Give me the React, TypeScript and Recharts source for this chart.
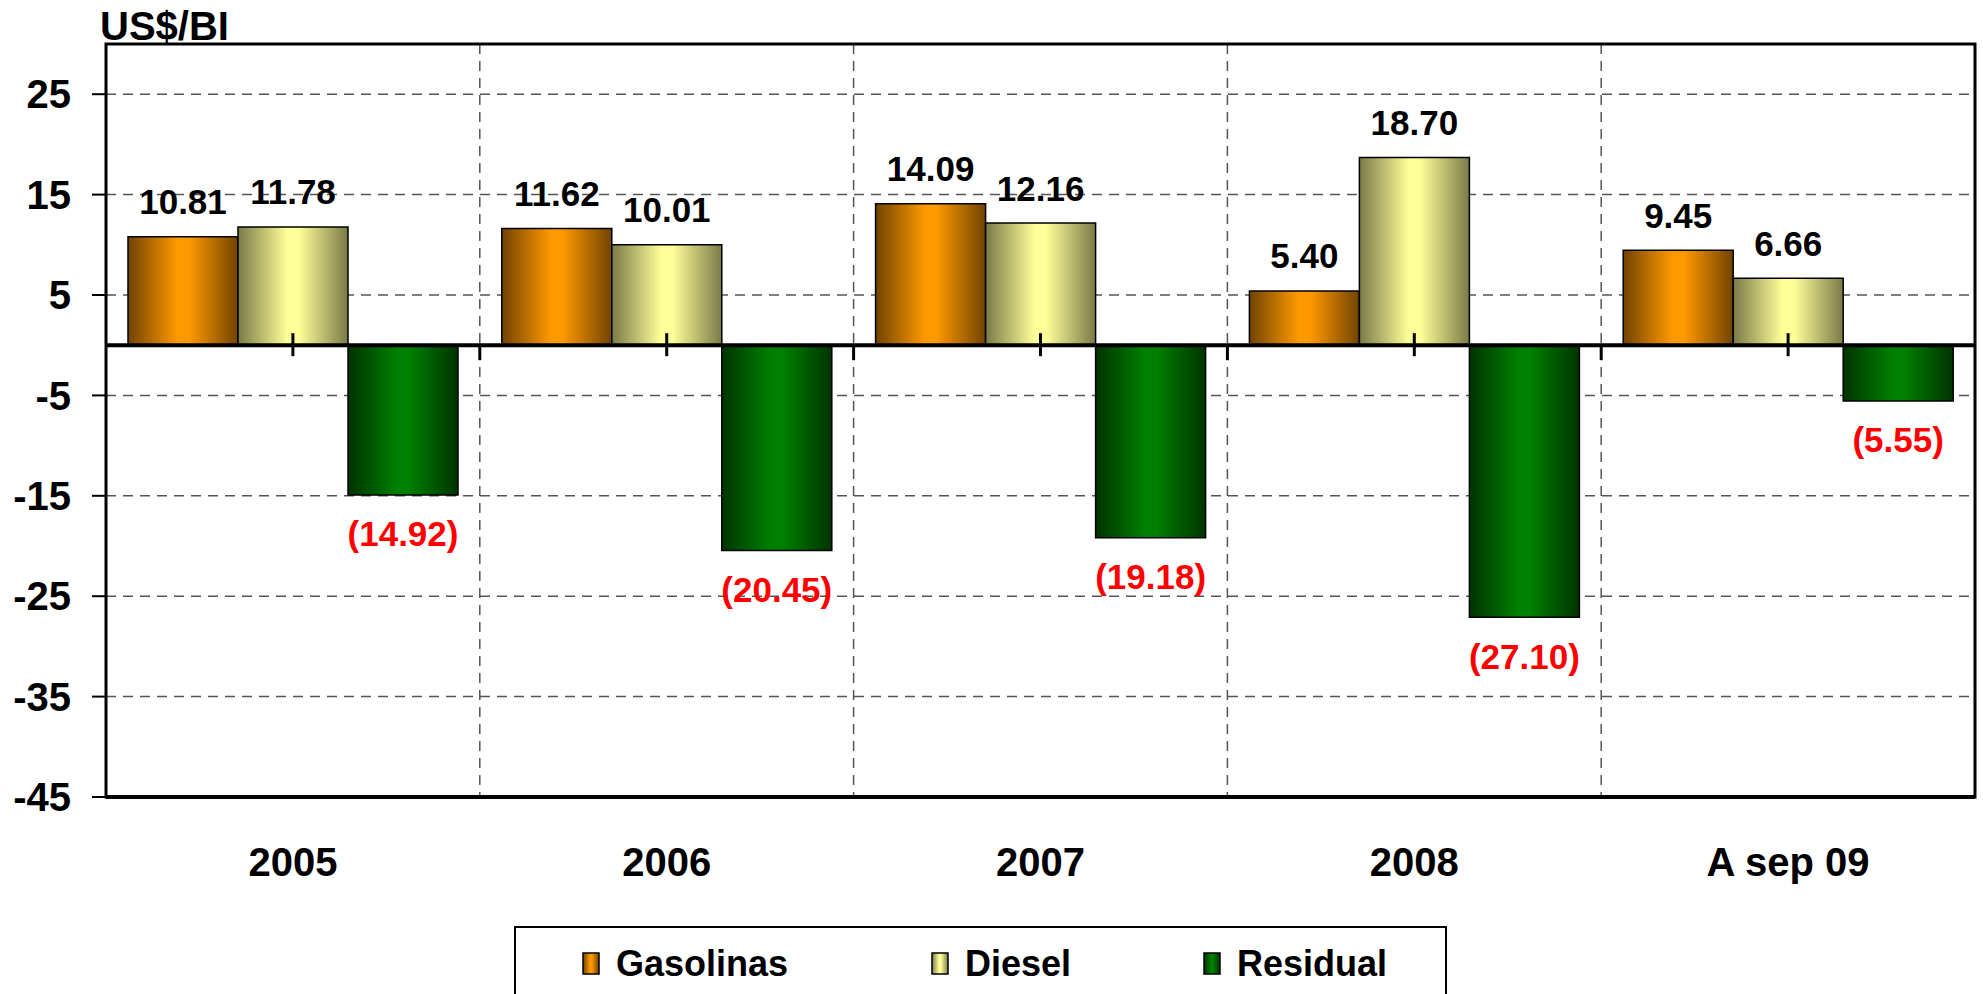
import React from 'react'
import {
  BarChart, Bar, XAxis, YAxis, CartesianGrid, ReferenceLine, ReferenceArea, LabelList,
} from 'recharts'

const categories = ['2005', '2006', '2007', '2008', 'A sep 09']
const gasolinas = [10.81, 11.62, 14.09, 5.4, 9.45]
const diesel = [11.78, 10.01, 12.16, 18.7, 6.66]
const residual = [-14.92, -20.45, -19.18, -27.1, -5.55]
const yTicks = [-45, -35, -25, -15, -5, 5, 15, 25]
const seriesNames = ['Gasolinas', 'Diesel', 'Residual']

const data = categories.map((year, i) => ({
  year,
  gasolinas: gasolinas[i],
  diesel: diesel[i],
  residual: residual[i],
}))

const FONT = '"Liberation Sans", Arial, sans-serif'
const W = 1983
const H = 994

const gradients = [
  { id: 'gOrange', edge: '#714300', mid: '#ff9900' },
  { id: 'gDiesel', edge: '#7a7a48', mid: '#ffff99' },
  { id: 'gResid', edge: '#003300', mid: '#008000' },
]

const GradDefs = () => (
  <defs>
    {gradients.map((g) => (
      <linearGradient key={g.id} id={g.id} x1="0" y1="0" x2="1" y2="0">
        <stop offset="0%" stopColor={g.edge} />
        <stop offset="45%" stopColor={g.mid} />
        <stop offset="55%" stopColor={g.mid} />
        <stop offset="100%" stopColor={g.edge} />
      </linearGradient>
    ))}
  </defs>
)

const renderLabel = (props: any) => {
  const { x, y, width, height, value } = props
  const v = Number(value)
  const neg = v < 0
  const end = neg ? Math.max(y, y + height) : Math.min(y, y + height)
  return (
    <text
      x={x + width / 2}
      y={neg ? end + 39 : end - 35}
      textAnchor="middle"
      dominantBaseline="central"
      fontFamily={FONT}
      fontWeight="bold"
      fontSize={35}
      fill={neg ? '#ff0000' : '#000'}
    >
      {neg ? `(${Math.abs(v).toFixed(2)})` : v.toFixed(2)}
    </text>
  )
}

const XTick = (props: any) => {
  const { x, y, payload } = props
  return (
    <text x={x} y={y + 65} textAnchor="middle" dominantBaseline="central"
      fontFamily={FONT} fontWeight="bold" fontSize={40} fill="#000">
      {payload.value}
    </text>
  )
}

// zero line with the category ticks crossing it
const ZeroLine = (props: any) => {
  const { x1, x2, y1 } = props
  const step = (x2 - x1) / categories.length
  return (
    <g>
      <line x1={x1} x2={x2} y1={y1} y2={y1} stroke="#000" strokeWidth={4} />
      {categories.map((c, i) => (
        <line key={'c' + c} x1={x1 + (i + 0.5) * step} x2={x1 + (i + 0.5) * step}
          y1={y1 - 12} y2={y1 + 11} stroke="#000" strokeWidth={3} />
      ))}
      {categories.slice(1).map((c, i) => (
        <line key={'b' + c} x1={x1 + (i + 1) * step} x2={x1 + (i + 1) * step}
          y1={y1} y2={y1 + 15} stroke="#000" strokeWidth={3} />
      ))}
    </g>
  )
}

const legendPos = [583, 932, 1204]

export default function App() {
  return (
    <div style={{ position: 'absolute', left: 0, top: 0, width: W, height: H, overflow: 'hidden', background: '#fff' }}>
      <BarChart
        width={W}
        height={H}
        data={data}
        margin={{ top: 44, right: 8, left: 0, bottom: 97 }}
        barGap={0}
        barSize={110}
      >
        <GradDefs />
        <CartesianGrid
          stroke="#555"
          strokeWidth={1.5}
          strokeDasharray="10 7"
          verticalCoordinatesGenerator={({ offset }: any) =>
            categories.slice(1).map((_, i) => offset.left + ((i + 1) * offset.width) / categories.length)
          }
        />
        <XAxis
          dataKey="year"
          height={100}
          axisLine={{ stroke: '#000', strokeWidth: 4 }}
          tickLine={false}
          tickSize={0}
          tickMargin={0}
          tick={<XTick />}
        />
        <YAxis
          type="number"
          width={106}
          domain={[-45, 30]}
          ticks={yTicks}
          axisLine={false}
          tickSize={14}
          tickMargin={21}
          tickLine={{ stroke: '#000', strokeWidth: 2 }}
          tick={{ fontFamily: FONT, fontWeight: 'bold', fontSize: 40, fill: '#000' }}
        />
        <ReferenceArea y1={-45} y2={30} fill="none" stroke="#000" strokeWidth={3} />
        <Bar dataKey="gasolinas" fill="url(#gOrange)" stroke="#000" strokeWidth={1.5} isAnimationActive={false}>
          <LabelList dataKey="gasolinas" content={renderLabel} />
        </Bar>
        <Bar dataKey="diesel" fill="url(#gDiesel)" stroke="#000" strokeWidth={1.5} isAnimationActive={false}>
          <LabelList dataKey="diesel" content={renderLabel} />
        </Bar>
        <Bar dataKey="residual" fill="url(#gResid)" stroke="#000" strokeWidth={1.5} isAnimationActive={false}>
          <LabelList dataKey="residual" content={renderLabel} />
        </Bar>
        <ReferenceLine y={0} shape={<ZeroLine />} />
      </BarChart>

      <svg width={W} height={H} style={{ position: 'absolute', left: 0, top: 0, pointerEvents: 'none' }}>
        <GradDefs />
        <text x={100} y={40} fontFamily={FONT} fontWeight="bold" fontSize={40} fill="#000">US$/BI</text>
        <rect x={515} y={927} width={931} height={120} fill="#fff" stroke="#000" strokeWidth={2} />
        {seriesNames.map((name, i) => (
          <g key={name}>
            <rect x={legendPos[i]} y={953} width={16} height={21} fill={`url(#${gradients[i].id})`} stroke="#000" strokeWidth={1.5} />
            <text x={legendPos[i] + 33} y={976} fontFamily={FONT} fontWeight="bold" fontSize={36} fill="#000">{name}</text>
          </g>
        ))}
      </svg>
    </div>
  )
}
